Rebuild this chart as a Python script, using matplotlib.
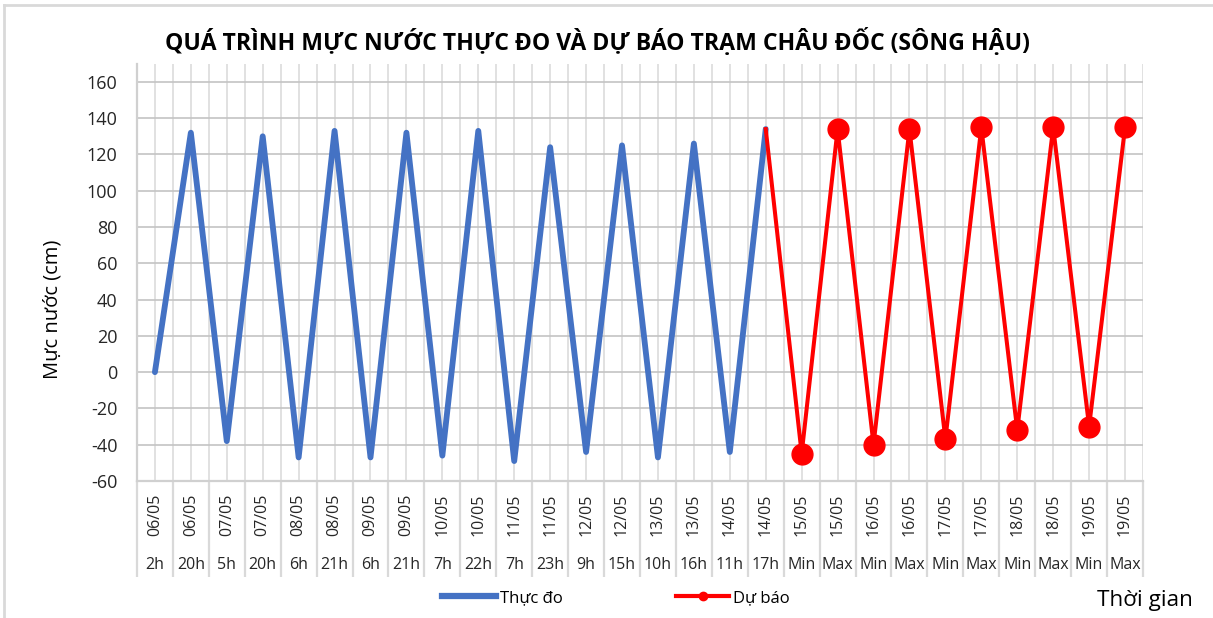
import matplotlib
matplotlib.use("Agg")
from matplotlib import pyplot as plt
from matplotlib.lines import Line2D
import numpy as np

plt.rcParams['font.family'] = ['Open Sans', 'DejaVu Sans']
plt.rcParams['axes.unicode_minus'] = False

# category axis: day / hour
days = ['06/05', '06/05', '07/05', '07/05', '08/05', '08/05', '09/05', '09/05',
        '10/05', '10/05', '11/05', '11/05', '12/05', '12/05', '13/05', '13/05',
        '14/05', '14/05', '15/05', '15/05', '16/05', '16/05', '17/05', '17/05',
        '18/05', '18/05', '19/05', '19/05']
hours = ['2h', '20h', '5h', '20h', '6h', '21h', '6h', '21h', '7h', '22h', '7h',
         '23h', '9h', '15h', '10h', '16h', '11h', '17h', 'Min', 'Max', 'Min',
         'Max', 'Min', 'Max', 'Min', 'Max', 'Min', 'Max']

# measured (first 18 categories)
thuc_do = [0, 132, -38, 130, -47, 133, -47, 132, -46, 133, -49, 124, -44, 125,
           -47, 126, -44, 134]
# forecast, starts at last measured point
du_bao = [134, -45, 134, -40, 134, -37, 135, -32, 135, -30, 135]

n = len(days)
x = np.arange(n)
x_td = x[:len(thuc_do)]
x_db = x[len(thuc_do) - 1:]

fig = plt.figure(figsize=(12.13, 6.18), dpi=100)
ax = fig.add_axes([0.1129, 0.2217, 0.8294, 0.6748])

ax.plot(x_td, thuc_do, color='#4472c4', lw=4.2, solid_joinstyle='round',
        solid_capstyle='round', label='Thực đo', zorder=3)
ax.plot(x_db, du_bao, color='#ff0000', lw=2.9, solid_joinstyle='round',
        zorder=4)
ax.plot(x_db[1:], du_bao[1:], 'o', color='#ff0000', ms=15, zorder=5)

ax.set_xlim(-0.5, n - 0.5)
ax.set_ylim(-60, 169.9)
ax.set_yticks(np.arange(-60, 161, 20))
ax.tick_params(axis='y', length=0, labelsize=13, pad=14, labelcolor='#262626')

# vertical grid at centres and boundaries, boundaries extended down as separators
ax.set_xticks(x)
ax.set_xticklabels([])
ax.set_xticks(np.arange(-0.5, n), minor=True)
ax.tick_params(axis='x', which='major', length=0)
ax.tick_params(axis='x', which='minor', length=69, width=1.6, color='#d9d9d9')
ax.grid(axis='x', which='both', color='#dcdcdc', lw=1.2)
ax.grid(axis='y', which='major', color='#c4c4c4', lw=1.2)
ax.set_axisbelow(True)

for s in ['top', 'right']:
    ax.spines[s].set_visible(False)
for s in ['left', 'bottom']:
    ax.spines[s].set_color('#d0d0d0')
    ax.spines[s].set_linewidth(1.6)

tr = ax.get_xaxis_transform()
for i in range(n):
    ax.text(x[i], -0.082, days[i], transform=tr, rotation=90, ha='center',
            va='center', fontsize=11.5, color='#262626', clip_on=False)
    ax.text(x[i], -0.202, hours[i], transform=tr, ha='center', va='center',
            fontsize=11.5, color='#262626', clip_on=False)

fig.text(0.4925, 0.932, 'QUÁ TRÌNH MỰC NƯỚC THỰC ĐO VÀ DỰ BÁO TRẠM CHÂU ĐỐC (SÔNG HẬU)',
         ha='center', va='center', fontsize=16.6, fontweight='bold', color='#000000')
fig.text(0.043, 0.5, 'Mực nước (cm)', rotation=90, ha='center', va='center',
         fontsize=14.5, color='#000000')
fig.text(0.983, 0.029, 'Thời gian', ha='right', va='center', fontsize=16.2,
         color='#000000')

handles = [Line2D([], [], color='#4472c4', lw=4.5),
           Line2D([], [], color='#ff0000', lw=3, marker='o', ms=6)]
fig.legend(handles, ['Thực đo', 'Dự báo'], loc='center', ncol=2,
           bbox_to_anchor=(0.508, 0.032), frameon=False, fontsize=12,
           handlelength=3.2, handletextpad=0.25, columnspacing=6.8)

# outer frame of the chart area
fig.add_artist(Line2D([0.0035, 0.0035], [0.0, 0.992], transform=fig.transFigure,
                      color='#d9d9d9', lw=2))
fig.add_artist(Line2D([0.0035, 1.0], [0.992, 0.992], transform=fig.transFigure,
                      color='#d9d9d9', lw=2))

fig.savefig('out.png', dpi=100)
